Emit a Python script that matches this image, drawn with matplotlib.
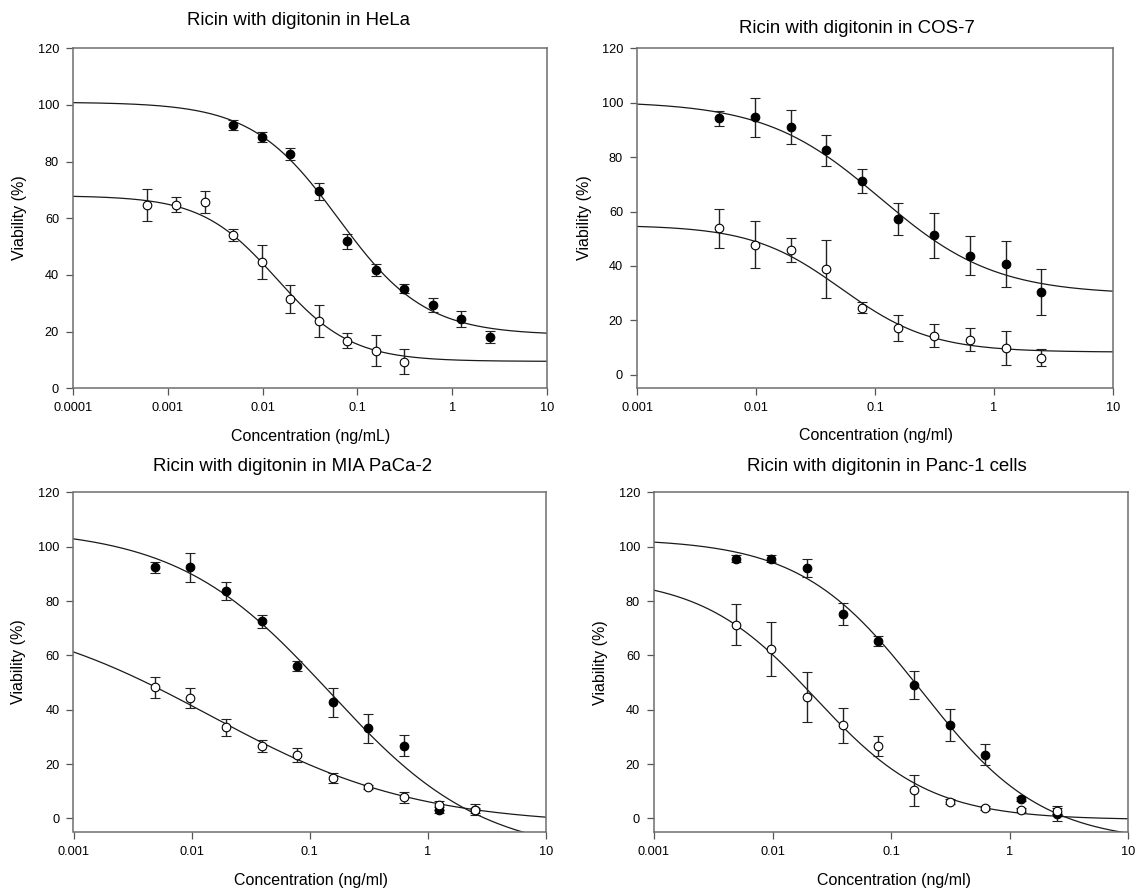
import numpy as np
import matplotlib
matplotlib.use("Agg")
import matplotlib.pyplot as plt

plt.rcParams['font.family'] = ['Liberation Sans', 'DejaVu Sans']

W, H = 1139, 893

# ricin dilution series (ng/mL)
conc = [0.00488, 0.00977, 0.0195, 0.0391, 0.0781, 0.156, 0.3125, 0.625, 1.25, 2.5]
conc_hela_dig = [0.00061, 0.00122, 0.00244, 0.00488, 0.00977, 0.0195, 0.0391, 0.0781, 0.156, 0.3125]

# viability (%) and error, filled = ricin alone, open = ricin + digitonin
hela_ricin = [92.8, 88.7, 82.8, 69.5, 51.9, 41.8, 35.2, 29.4, 24.5, 18.0]
hela_ricin_err = [1.8, 1.7, 2.1, 2.9, 2.7, 2.0, 1.6, 2.4, 2.9, 2.1]
hela_dig = [64.7, 64.8, 65.8, 54.1, 44.5, 31.4, 23.8, 16.8, 13.2, 9.4]
hela_dig_err = [5.6, 2.6, 3.9, 2.2, 6.0, 4.9, 5.6, 2.6, 5.5, 4.4]

cos_ricin = [94.2, 94.6, 91.2, 82.5, 71.3, 57.3, 51.2, 43.8, 40.7, 30.4]
cos_ricin_err = [2.9, 7.3, 6.3, 5.7, 4.5, 6.0, 8.3, 7.3, 8.3, 8.4]
cos_dig = [53.9, 47.8, 45.9, 38.8, 24.6, 17.1, 14.3, 12.9, 9.8, 6.2]
cos_dig_err = [7.2, 8.7, 4.4, 10.6, 2.0, 4.8, 4.2, 4.2, 6.4, 3.1]

mia_ricin = [92.4, 92.4, 83.6, 72.5, 56.2, 42.7, 33.2, 26.8, 3.0, 3.0]
mia_ricin_err = [2.0, 5.3, 3.4, 2.4, 1.8, 5.4, 5.4, 3.8, 1.1, 1.0]
mia_dig = [48.2, 44.3, 33.5, 26.6, 23.4, 14.8, 11.5, 7.7, 4.8, 3.2]
mia_dig_err = [3.9, 3.8, 3.2, 2.3, 2.5, 1.8, 0.8, 1.9, 1.6, 2.0]

panc_ricin = [95.5, 95.5, 92.1, 75.3, 65.3, 49.2, 34.3, 23.4, 7.1, 1.8]
panc_ricin_err = [1.3, 1.3, 3.3, 4.1, 2.0, 5.1, 5.8, 3.9, 0.6, 2.7]
panc_dig = [71.3, 62.3, 44.7, 34.2, 26.6, 10.4, 6.2, 3.8, 3.1, 2.7]
panc_dig_err = [7.6, 9.8, 9.3, 6.4, 3.8, 5.7, 0.8, 0.6, 0.6, 1.2]

# four-parameter logistic fits: top, bottom, EC50, Hill slope
hela_ricin_fit = [101.0, 18.8, 0.063, 0.95]
hela_dig_fit = [68.0, 9.5, 0.014, 1.1]
cos_ricin_fit = [100.5, 29.5, 0.11, 0.9]
cos_dig_fit = [55.0, 8.3, 0.052, 1.15]
mia_ricin_fit = [107.0, -14.0, 0.147, 0.67]
mia_dig_fit = [78.0, -2.5, 0.0145, 0.5]
panc_ricin_fit = [103.0, -9.0, 0.18, 0.85]
panc_dig_fit = [89.0, -0.5, 0.023, 0.9]

y_ticks = [0, 20, 40, 60, 80, 100, 120]


def logistic(x, top, bottom, ec50, hill):
    return bottom + (top - bottom) / (1 + (x / ec50) ** hill)


def px_box(left, top, width, height):
    return [left / W, 1 - (top + height) / H, width / W, height / H]


def fig_text(fig, x, y, s, **kw):
    fig.text(x / W, 1 - y / H, s, ha='center', va='center', **kw)


def draw_panel(fig, box, x_lo, y_lo, curves):
    ax = fig.add_axes(px_box(*box))
    ax.set_xscale('log')
    ax.set_xlim(x_lo, 10)
    ax.set_ylim(y_lo, 120)

    xs = np.logspace(np.log10(x_lo), 1, 400)
    for x, y, err, fit, face in curves:
        ax.plot(xs, logistic(xs, *fit), color='#1a1a1a', lw=0.9, zorder=2)
    for x, y, err, fit, face in curves:
        ax.errorbar(x, y, yerr=err, fmt='o', ms=6.2, mfc=face, mec='black',
                    mew=0.8, ecolor='#222222', elinewidth=1.0, capsize=3.6,
                    capthick=1.0, zorder=3)

    decades = np.arange(int(round(np.log10(x_lo))), 2)
    ticks = [10.0 ** d for d in decades]
    ax.set_xticks(ticks)
    ax.set_xticklabels(['%g' % t for t in ticks])
    ax.xaxis.set_minor_locator(matplotlib.ticker.NullLocator())
    ax.set_yticks(y_ticks)
    ax.set_yticklabels([str(t) for t in y_ticks])

    ax.tick_params(axis='both', direction='out', length=5, width=0.9,
                   color='#555555', labelsize=9.2, pad=5,
                   top=False, right=False)
    for sp in ax.spines.values():
        sp.set_color('#6e6e6e')
        sp.set_linewidth(1.1)
    return ax


fig = plt.figure(figsize=(W / 100, H / 100), dpi=100)

draw_panel(fig, (73, 48.3, 474, 340), 1e-4, 0, [
    (conc, hela_ricin, hela_ricin_err, hela_ricin_fit, 'black'),
    (conc_hela_dig, hela_dig, hela_dig_err, hela_dig_fit, 'white'),
])
draw_panel(fig, (637, 48.3, 476, 340), 1e-3, -5, [
    (conc, cos_ricin, cos_ricin_err, cos_ricin_fit, 'black'),
    (conc, cos_dig, cos_dig_err, cos_dig_fit, 'white'),
])
draw_panel(fig, (73.5, 492.3, 472.5, 339.7), 1e-3, -5, [
    (conc, mia_ricin, mia_ricin_err, mia_ricin_fit, 'black'),
    (conc, mia_dig, mia_dig_err, mia_dig_fit, 'white'),
])
draw_panel(fig, (654, 492.3, 474, 339.7), 1e-3, -5, [
    (conc, panc_ricin, panc_ricin_err, panc_ricin_fit, 'black'),
    (conc, panc_dig, panc_dig_err, panc_dig_fit, 'white'),
])

# titles and axis labels
fig_text(fig, 298.5, 20.7, 'Ricin with digitonin in HeLa', fontsize=13.4)
fig_text(fig, 856.8, 28.3, 'Ricin with digitonin in COS-7', fontsize=13.4)
fig_text(fig, 292.5, 466.7, 'Ricin with digitonin in MIA PaCa-2', fontsize=13.4)
fig_text(fig, 887.3, 466.7, 'Ricin with digitonin in Panc-1 cells', fontsize=13.4)

fig_text(fig, 311, 436.7, 'Concentration (ng/mL)', fontsize=11.5)
fig_text(fig, 876, 435, 'Concentration (ng/ml)', fontsize=11.5)
fig_text(fig, 311, 880, 'Concentration (ng/ml)', fontsize=11.5)
fig_text(fig, 894, 880, 'Concentration (ng/ml)', fontsize=11.5)

fig_text(fig, 20, 218, 'Viability (%)', fontsize=11.5, rotation=90)
fig_text(fig, 584, 218, 'Viability (%)', fontsize=11.5, rotation=90)
fig_text(fig, 18.3, 662, 'Viability (%)', fontsize=11.5, rotation=90)
fig_text(fig, 601, 663, 'Viability (%)', fontsize=11.5, rotation=90)

fig.savefig('out.png', dpi=100)
